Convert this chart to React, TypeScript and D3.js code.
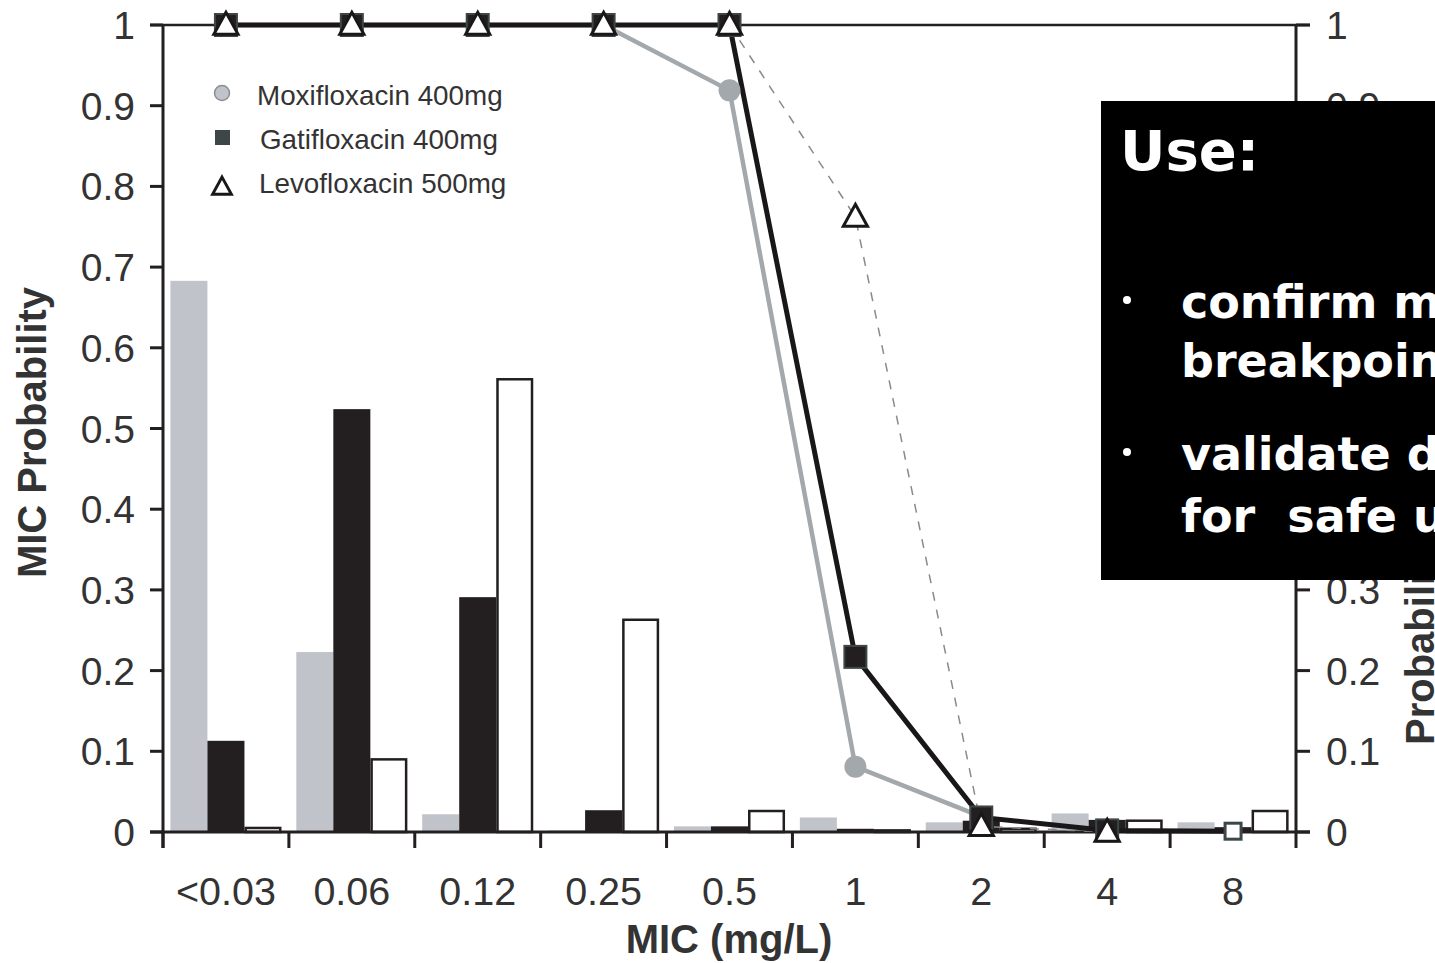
import React from "react";
import * as d3 from "d3";

const categories = ["<0.03", "0.06", "0.12", "0.25", "0.5", "1", "2", "4", "8"];
const moxiBars = [0.683, 0.223, 0.022, 0.002, 0.007, 0.018, 0.012, 0.023, 0.012];
const gatiBars = [0.113, 0.524, 0.291, 0.027, 0.007, 0.004, 0.014, 0.015, 0.006];
const levoBars = [0.005, 0.09, 0.561, 0.263, 0.026, 0.002, 0.004, 0.014, 0.026];
const moxiPTA: (number | null)[] = [1, 1, 1, 1, 0.919, 0.081, 0.019, null, null];
const gatiPTA: (number | null)[] = [1, 1, 1, 1, 1, 0.217, 0.018, 0.002, 0.001];
const levoPTA: (number | null)[] = [1, 1, 1, 1, 1, 0.762, 0.007, 0.0, null];
const yTicks = [0, 0.1, 0.2, 0.3, 0.4, 0.5, 0.6, 0.7, 0.8, 0.9, 1];
const legendItems = ["Moxifloxacin 400mg", "Gatifloxacin 400mg", "Levofloxacin 500mg"];
const seriesKeys = ["moxi", "gati", "levo"];

const W = 1435;
const H = 963;
const L = 163, R = 1296, T = 25, B = 832;
const FONT = "'Liberation Sans', Arial, Helvetica, sans-serif";
const BOXFONT = "'DejaVu Sans', sans-serif";

export default function App() {
  const x = d3.scaleBand<string>().domain(categories).range([L, R]).padding(0);
  const bw = x.bandwidth();
  const xs = d3.scaleBand<string>().domain(seriesKeys).range([0, bw]).paddingInner(0).paddingOuter(0.2);
  const y = d3.scaleLinear().domain([0, 1]).range([B, T]);
  const cx = (c: string) => (x(c) as number) + bw / 2;

  const line = d3
    .line<number | null>()
    .defined((d) => d !== null)
    .x((_, i) => cx(categories[i]))
    .y((d) => y(d as number));

  const barSets = [
    { key: "moxi", vals: moxiBars, fill: "#c0c4ca", stroke: "none", sw: 0 },
    { key: "gati", vals: gatiBars, fill: "#231f20", stroke: "none", sw: 0 },
    { key: "levo", vals: levoBars, fill: "#ffffff", stroke: "#231f20", sw: 2.5 },
  ];

  const tri = (px: number, py: number, s: number) =>
    `M${px},${py - s * 0.58} L${px + s * 0.55},${py + s * 0.42} L${px - s * 0.55},${py + s * 0.42} Z`;

  return (
    <svg
      width={W}
      height={H}
      style={{ position: "absolute", left: 0, top: 0, background: "#fff" }}
      fontFamily={FONT}
    >
      {/* bars */}
      {barSets.map((s) =>
        s.vals.map((v, i) => {
          const c = categories[i];
          const bx = (x(c) as number) + (xs(s.key) as number);
          const h = B - y(v);
          return (
            <rect
              key={s.key + i}
              x={bx + (s.sw ? s.sw / 2 : 0)}
              y={y(v)}
              width={xs.bandwidth() - (s.sw ? s.sw : 0)}
              height={Math.max(h, 0.5)}
              fill={s.fill}
              stroke={s.stroke}
              strokeWidth={s.sw}
            />
          );
        })
      )}

      {/* frame / axes */}
      <line x1={150} x2={1310} y1={T} y2={T} stroke="#231f20" strokeWidth={2.5} />
      <line x1={150} x2={1310} y1={B} y2={B} stroke="#231f20" strokeWidth={3} />
      <line x1={L} x2={L} y1={T} y2={848} stroke="#231f20" strokeWidth={3} />
      <line x1={R} x2={R} y1={T} y2={848} stroke="#231f20" strokeWidth={3} />
      {yTicks.map((t) => (
        <g key={"yt" + t}>
          <line x1={150} x2={L} y1={y(t)} y2={y(t)} stroke="#231f20" strokeWidth={3} />
          <line x1={R} x2={1310} y1={y(t)} y2={y(t)} stroke="#231f20" strokeWidth={3} />
          <text x={135} y={y(t)} dy="0.36em" textAnchor="end" fontSize={39} fill="#333">
            {String(t)}
          </text>
          <text x={1326} y={y(t)} dy="0.36em" textAnchor="start" fontSize={39} fill="#333">
            {String(t)}
          </text>
        </g>
      ))}
      {categories.map((c) => (
        <g key={"xt" + c}>
          <line x1={x(c) as number} x2={x(c) as number} y1={B} y2={848} stroke="#231f20" strokeWidth={3} />
          <text x={cx(c)} y={905} textAnchor="middle" fontSize={39.5} fill="#333">
            {c}
          </text>
        </g>
      ))}

      {/* axis titles */}
      <text x={729} y={953} textAnchor="middle" fontSize={40} fontWeight="bold" fill="#333">
        MIC (mg/L)
      </text>
      <text
        transform={`translate(46,${(T + B) / 2 + 4}) rotate(-90)`}
        textAnchor="middle"
        fontSize={40}
        fontWeight="bold"
        fill="#333"
      >
        MIC Probability
      </text>
      <text
        transform={`translate(1434,745) rotate(-90)`}
        textAnchor="start"
        fontSize={40}
        fontWeight="bold"
        fill="#333"
      >
        Probability of Target Attainment
      </text>

      {/* lines */}
      <path d={line(levoPTA) || ""} fill="none" stroke="#8a8a8a" strokeWidth={1.5} strokeDasharray="9,9" />
      <path d={line(moxiPTA) || ""} fill="none" stroke="#a3a8ad" strokeWidth={4.5} />
      <path d={line(gatiPTA) || ""} fill="none" stroke="#1a1718" strokeWidth={5} />

      {/* markers */}
      {moxiPTA.map((v, i) =>
        v === null ? null : (
          <circle key={"mc" + i} cx={cx(categories[i])} cy={y(v)} r={11} fill="#a3a8ad" />
        )
      )}
      {gatiPTA.map((v, i) => {
        if (v === null) return null;
        const last = i === categories.length - 1;
        const s = last ? 16 : 22;
        return (
          <rect
            key={"gs" + i}
            x={cx(categories[i]) - s / 2}
            y={y(v) - s / 2}
            width={s}
            height={s}
            fill={last ? "#ffffff" : "#231f20"}
            stroke="#3d4747"
            strokeWidth={last ? 3 : 2}
          />
        );
      })}
      {levoPTA.map((v, i) =>
        v === null ? null : (
          <path
            key={"lt" + i}
            d={tri(cx(categories[i]), y(v), 22)}
            fill="#ffffff"
            stroke="#1a1718"
            strokeWidth={3}
            strokeLinejoin="miter"
          />
        )
      )}

      {/* legend */}
      <circle cx={222} cy={93} r={7.5} fill="#c0c4ca" stroke="#8a8f94" strokeWidth={1.5} />
      <text x={257} y={105} fontSize={27.8} fill="#333">
        {legendItems[0]}
      </text>
      <rect x={215} y={130} width={15} height={15} fill="#3d4747" />
      <text x={260} y={149} fontSize={27.8} fill="#333">
        {legendItems[1]}
      </text>
      <path d={tri(222, 187, 17)} fill="#fff" stroke="#1a1718" strokeWidth={3} />
      <text x={259} y={193} fontSize={27.8} fill="#333">
        {legendItems[2]}
      </text>

      {/* overlay box */}
      <rect x={1101} y={101} width={340} height={479} fill="#000" />
      <g fontFamily={BOXFONT} fontWeight="bold" fill="#fff">
        <text x={1120} y={170} fontSize={56}>Use:</text>
        <circle cx={1127} cy={300} r={4} />
        <text x={1181} y={318} fontSize={46}>confirm micro</text>
        <text x={1181} y={377} fontSize={46}>breakpoints</text>
        <circle cx={1127} cy={452} r={4} />
        <text x={1181} y={470} fontSize={46}>validate dose</text>
        <text x={1181} y={532} fontSize={46} style={{ whiteSpace: "pre" }}>{"for  safe use"}</text>
      </g>
    </svg>
  );
}
